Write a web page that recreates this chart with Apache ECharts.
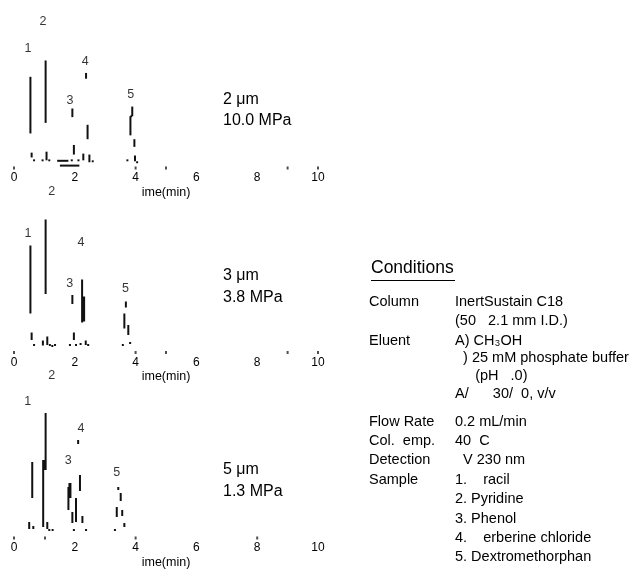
<!DOCTYPE html>
<html style="height: 100%">
<head>
    <meta charset="utf-8">
    <title>Chromatogram</title>
    <script src="https://cdn.jsdelivr.net/npm/echarts@6/dist/echarts.min.js"></script>
</head>
<body style="height: 100%; margin: 0; background: #fff">
<div id="chart1" style="width:640px;height:570px"></div>

<script type="text/javascript">
    // time axis (min)
    var timeTicks = [0, 2, 4, 6, 8, 10];
    var axisName = 'ime(min)';

    // trace fragments: [t0, signal0, t1, signal1]
    var trace1 = [
        [0.54, 36, 0.54, 95], [1.04, 47, 1.04, 112], [2.37, 93, 2.37, 99],
        [1.92, 53, 1.92, 62], [2.42, 30, 2.42, 45], [1.97, 14, 1.97, 24],
        [3.89, 54, 3.89, 64], [3.83, 34, 3.83, 54], [3.83, 54, 3.89, 54], [3.96, 22, 3.96, 30],
        [0.58, 11, 0.58, 16], [0.66, 7, 0.66, 9], [0.94, 7, 0.94, 9], [1.07, 8, 1.07, 17],
        [1.16, 7, 1.16, 9], [1.42, 7.5, 1.79, 7.5], [1.90, 7, 1.90, 9], [2.12, 7, 2.12, 9],
        [2.28, 8, 2.28, 15], [2.48, 6, 2.48, 14], [2.59, 6, 2.59, 8], [1.51, 2.5, 2.15, 2.5],
        [3.73, 7, 3.73, 9], [3.98, 7, 3.98, 13], [4.05, 5, 4.05, 7]
    ];
    var heavy1 = [];
    var ticks1 = [0, 4, 5, 9, 10];
    var labels1 = [[0.46, 124, '1'], [0.95, 153, '2'], [1.84, 70, '3'], [2.34, 111, '4'], [3.84, 76.5, '5']];

    var trace2 = [
        [0.54, 39, 0.54, 107], [1.04, 58.5, 1.04, 133], [1.92, 48.5, 1.92, 57.5],
        [2.24, 30, 2.24, 73], [3.68, 45, 3.68, 51], [3.63, 24, 3.63, 39], [3.76, 17.5, 3.76, 27.5],
        [0.58, 12.5, 0.58, 20], [0.66, 6.5, 0.66, 8.5], [0.95, 7, 0.95, 12], [1.095, 7.5, 1.095, 16],
        [1.18, 6.5, 1.18, 8.5], [1.26, 5.5, 1.26, 7.5], [1.35, 6.5, 1.35, 8.5], [1.84, 6.5, 1.84, 8.5],
        [1.97, 12.5, 1.97, 20], [2.04, 6.5, 2.04, 8.5], [2.19, 7.5, 2.19, 9.5], [2.36, 7.5, 2.36, 12],
        [2.44, 6.5, 2.44, 8.5], [3.58, 6.5, 3.58, 8.5], [3.82, 8.5, 3.82, 10.5]
    ];
    var heavy2 = [[2.29, 31, 2.29, 56]];
    var ticks2 = [0, 4, 5, 9, 10];
    var labels2 = [[0.46, 118.5, '1'], [1.24, 160.5, '2'], [1.83, 68.5, '3'], [2.20, 110, '4'], [3.67, 63.5, '5']];

    var trace3 = [
        [0.60, 40, 0.60, 76], [1.04, 68, 1.04, 125], [0.96, 11, 0.96, 78], [2.11, 94, 2.11, 98],
        [1.79, 28, 1.79, 51], [2.17, 47, 2.17, 63], [2.04, 16, 2.04, 40], [1.92, 15, 1.92, 26],
        [2.25, 15, 2.25, 22], [3.43, 48, 3.43, 51], [3.51, 37, 3.51, 45], [3.38, 21, 3.38, 31],
        [3.56, 22, 3.56, 28], [3.63, 11, 3.63, 15],
        [0.50, 9, 0.50, 16], [0.635, 9, 0.635, 12], [1.095, 9, 1.095, 16], [1.16, 7, 1.16, 9],
        [1.27, 7, 1.27, 9], [1.97, 7, 1.97, 9], [2.37, 7, 2.37, 9], [3.32, 7, 3.32, 9]
    ];
    var heavy3 = [[1.0, 68, 1.0, 78], [1.84, 40, 1.84, 55]];
    var ticks3 = [0, 1.02, 4, 8];
    var labels3 = [[0.45, 136.5, '1'], [1.24, 162.5, '2'], [1.78, 77.5, '3'], [2.20, 109.5, '4'], [3.38, 65.5, '5']];

    var particle = ['2 μm', '3 μm', '5 μm'];
    var pressure = ['10.0 MPa', '3.8 MPa', '1.3 MPa'];

    var condTitle = 'Conditions';
    var condLabels = ['Column', '', 'Eluent', '', '', '', 'Flow Rate', 'Col.  emp.', 'Detection', 'Sample', '', '', '', ''];
    var condValues = ['InertSustain C18', '(50   2.1 mm I.D.)', 'A) CH₃OH', '  ) 25 mM phosphate buffer',
        '     (pH   .0)', 'A/      30/  0, v/v', '0.2 mL/min', '40  C', '  V 230 nm',
        '1.    racil', '2. Pyridine', '3. Phenol', '4.    erberine chloride', '5. Dextromethorphan'];

    var FONT = '"Liberation Sans", Arial, sans-serif';
    var traces = [trace1, trace2, trace3];
    var heavies = [heavy1, heavy2, heavy3];
    var tickSets = [ticks1, ticks2, ticks3];
    var labelSets = [labels1, labels2, labels3];
    var baseY = [168, 352.5, 538];
    var textY = [[100.7, 121.7], [276.5, 298.5], [471, 493]];
    var rowY = [301.5, 321, 340.5, 358, 376, 394, 421.5, 440.9, 460.3, 479.7, 499.1, 518.5, 537.9, 557.3];

    function segItem(width) {
        return function (params, api) {
            var a = api.coord([api.value(0), api.value(1)]);
            var b = api.coord([api.value(2), api.value(3)]);
            return {
                type: 'line',
                shape: {x1: a[0], y1: a[1], x2: b[0], y2: b[1]},
                style: {stroke: '#111', lineWidth: width, lineCap: 'butt'}
            };
        };
    }

    var grids = [], xAxes = [], yAxes = [], series = [], graphic = [];
    for (var i = 0; i < 3; i++) {
        grids.push({left: 14, width: 304, bottom: 570 - baseY[i], height: 175});
        xAxes.push({
            type: 'value', gridIndex: i, min: 0, max: 10, interval: 2,
            axisLine: {show: false}, axisTick: {show: false}, splitLine: {show: false},
            axisLabel: {fontSize: 12, color: '#000', margin: 4, fontFamily: FONT},
            name: axisName, nameLocation: 'middle', nameGap: 18,
            nameTextStyle: {fontSize: 12.5, color: '#000', fontFamily: FONT}
        });
        yAxes.push({type: 'value', gridIndex: i, min: 0, max: 175, show: false});
        series.push({
            type: 'custom', xAxisIndex: i, yAxisIndex: i, silent: true,
            renderItem: segItem(2), data: traces[i]
        });
        series.push({
            type: 'custom', xAxisIndex: i, yAxisIndex: i, silent: true,
            renderItem: segItem(3), data: heavies[i]
        });
        series.push({
            type: 'scatter', xAxisIndex: i, yAxisIndex: i, silent: true, clip: false,
            symbol: 'rect', symbolSize: [2, 3], itemStyle: {color: '#222'},
            data: tickSets[i].map(function (t) { return [t, 0]; })
        });
        series.push({
            type: 'scatter', xAxisIndex: i, yAxisIndex: i, silent: true, clip: false,
            symbolSize: 1, itemStyle: {color: 'rgba(0,0,0,0)'},
            label: {
                show: true, position: 'inside', color: '#000', fontSize: 12.5, fontFamily: FONT,
                formatter: function (p) { return p.value[2]; }
            },
            data: labelSets[i]
        });
        graphic.push({type: 'text', left: 223, top: textY[i][0] - 9,
            style: {text: particle[i], fontSize: 16, fill: '#000', font: '16px ' + FONT}});
        graphic.push({type: 'text', left: 223, top: textY[i][1] - 9,
            style: {text: pressure[i], fontSize: 16, fill: '#000', font: '16px ' + FONT}});
    }

    // conditions block
    graphic.push({type: 'text', left: 371, top: 259,
        style: {text: condTitle, fill: '#000', font: '17.5px ' + FONT}});
    graphic.push({type: 'line', shape: {x1: 371, y1: 280.5, x2: 455, y2: 280.5},
        style: {stroke: '#000', lineWidth: 1}});
    for (var r = 0; r < rowY.length; r++) {
        if (condLabels[r]) {
            graphic.push({type: 'text', x: 369, y: rowY[r],
                style: {text: condLabels[r], fill: '#000', font: '14.5px ' + FONT, textVerticalAlign: 'middle'}});
        }
        graphic.push({type: 'text', x: 455, y: rowY[r],
            style: {text: condValues[r], fill: '#000', font: '14.5px ' + FONT, textVerticalAlign: 'middle'}});
    }

    var myChart1 = echarts.init(document.getElementById('chart1'));
    myChart1.setOption({
        backgroundColor: '#fff',
        animation: false,
        grid: grids,
        xAxis: xAxes,
        yAxis: yAxes,
        series: series,
        graphic: graphic
    });
</script>
</body>
</html>
